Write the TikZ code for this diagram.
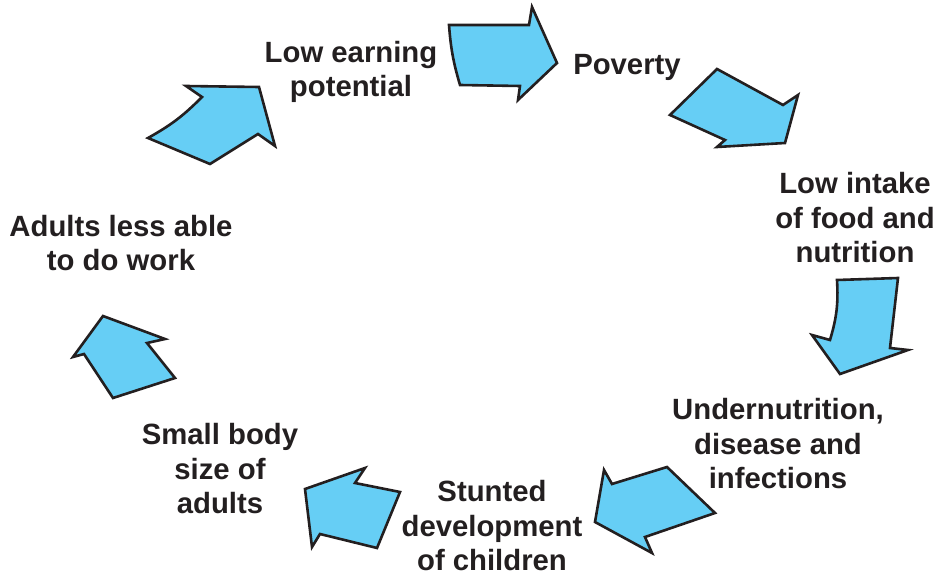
\documentclass[tikz,border=0pt]{standalone}
\usepackage{fontspec}
\setmainfont{Liberation Sans}
\usepackage{xcolor}
\usetikzlibrary{positioning}

\definecolor{cycleblue}{RGB}{102,206,245}
\definecolor{inktext}{RGB}{35,31,32}

\begin{document}
\begin{tikzpicture}[x=1pt,y=-1pt,
    cyclearrow/.style={draw=inktext,line width=2.6pt,fill=cycleblue,line join=miter},
    stage/.style={align=center,text=inktext,inner sep=0pt,
        font=\fontsize{29.3}{34.5}\selectfont\bfseries}]
    % 
    \useasboundingbox (0,0) rectangle (938,578);

    % 
    \node[stage] (earning) at (351,72) {Low earning\\potential};
    \node[stage] (poverty) at (627,67) {Poverty};
    \node[stage] (intake) at (855,218) {Low intake\\of food and\\nutrition};
    \node[stage] (disease) at (778,444) {Undernutrition,\\disease and\\infections};
    \node[stage] (stunted) at (492,526) {Stunted\\development\\of children};
    \node[stage] (small) at (220,469) {Small body\\size of\\adults};
    \node[stage] (adults) at (121,243) {Adults less able\\to do work};

    % 
    \draw[cyclearrow] (449,25) -- (529,25) -- (532,7) -- (557,63) -- (518,100)
        -- (520,86) -- (460,85) to[bend left=6] cycle;
    \draw[cyclearrow] (670,115) -- (717,69) -- (783,105) -- (798,95) -- (785,143)
        -- (717,147) -- (725,140) -- cycle;
    \draw[cyclearrow] (837,280) -- (898,278) -- (890,348) -- (908,350) -- (840,374)
        -- (812,335) -- (830,340) to[bend right=10] cycle;
    \draw[cyclearrow] (595,522) -- (604,470) -- (612,484) -- (667,467) -- (715,513)
        -- (645,537) -- (652,553) -- cycle;
    \draw[cyclearrow] (305,489) -- (365,468) -- (355,483) -- (400,492) -- (377,548)
        -- (320,534) -- (312,547) -- cycle;
    \draw[cyclearrow] (103,316) -- (165,339) -- (147,343) -- (175,378) -- (113,398)
        -- (84,354) -- (73,357) -- cycle;
    \draw[cyclearrow] (148,138) -- (210,164) -- (258,134) -- (275,146) -- (259,87)
        -- (186,86) -- (202,97) to[bend left=8] cycle;
\end{tikzpicture}
\end{document}
